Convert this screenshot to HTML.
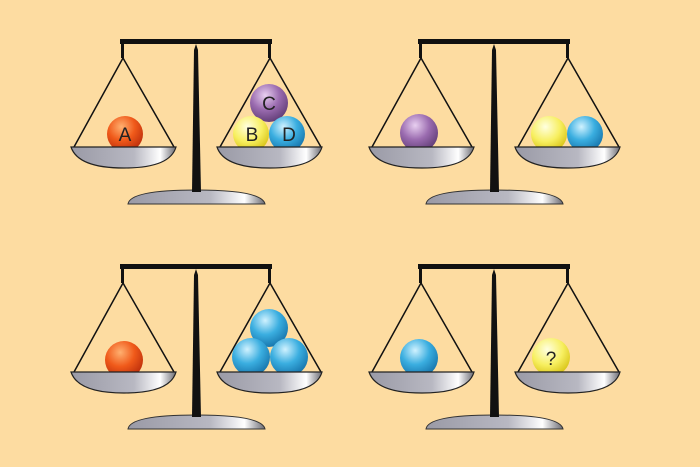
<!DOCTYPE html>
<html><head><meta charset="utf-8"><style>
html,body{margin:0;padding:0;background:#fddca1;}
svg{display:block}
text{font-family:"Liberation Sans",sans-serif;}
</style></head><body>
<svg width="700" height="467" viewBox="0 0 700 467">
<defs>
<radialGradient id="gRed" cx="0.4" cy="0.3" r="0.75"><stop offset="0" stop-color="#ffb070"/><stop offset="0.5" stop-color="#f05a1a"/><stop offset="1" stop-color="#b82a0a"/></radialGradient>
<radialGradient id="gPur" cx="0.4" cy="0.3" r="0.75"><stop offset="0" stop-color="#e8cff0"/><stop offset="0.5" stop-color="#9b6cb0"/><stop offset="1" stop-color="#5d3a72"/></radialGradient>
<radialGradient id="gYel" cx="0.4" cy="0.3" r="0.75"><stop offset="0" stop-color="#ffffe0"/><stop offset="0.55" stop-color="#f7ef60"/><stop offset="1" stop-color="#d6c010"/></radialGradient>
<radialGradient id="gBlu" cx="0.4" cy="0.3" r="0.75"><stop offset="0" stop-color="#d0f2ff"/><stop offset="0.5" stop-color="#3aaee0"/><stop offset="1" stop-color="#1470a8"/></radialGradient>
<linearGradient id="gPan" x1="0" y1="0" x2="1" y2="0"><stop offset="0" stop-color="#9a9aa6"/><stop offset="0.6" stop-color="#b8b8c2"/><stop offset="0.85" stop-color="#ffffff"/><stop offset="1" stop-color="#6a6a72"/></linearGradient>
<g id="scale">
  <path d="M128,204 Q130,190 196,190 Q262,190 265,204 Z" fill="url(#gPan)" stroke="#333" stroke-width="1"/>
  <rect x="120" y="39" width="152" height="5" fill="#111"/>
  <rect x="121" y="44" width="3" height="14" fill="#111"/>
  <rect x="268" y="44" width="3" height="14" fill="#111"/>
  <polygon points="192,192 194,50 196,44 198,50 201,192" fill="#111"/>
  <line x1="123" y1="58" x2="74" y2="147" stroke="#111" stroke-width="1.5"/>
  <line x1="123" y1="58" x2="174" y2="147" stroke="#111" stroke-width="1.5"/>
  <line x1="270" y1="58" x2="220" y2="147" stroke="#111" stroke-width="1.5"/>
  <line x1="270" y1="58" x2="321" y2="147" stroke="#111" stroke-width="1.5"/>
</g>
<g id="pans">
  <path d="M71,147 L176,147 Q170,168 124,168 Q78,168 71,147 Z" fill="url(#gPan)" stroke="#222" stroke-width="1.2"/>
  <path d="M217,147 L322,147 Q316,168 270,168 Q224,168 217,147 Z" fill="url(#gPan)" stroke="#222" stroke-width="1.2"/>
</g>
</defs>
<g>
  <use href="#scale"/>
  <circle cx="125" cy="134" r="18" fill="url(#gRed)"/>
  <circle cx="269" cy="103" r="19" fill="url(#gPur)"/>
  <circle cx="251" cy="134" r="18" fill="url(#gYel)"/>
  <circle cx="287" cy="134" r="18" fill="url(#gBlu)"/>
  <text x="125" y="141" font-size="19" text-anchor="middle" fill="#222">A</text>
  <text x="269" y="110" font-size="19" text-anchor="middle" fill="#222">C</text>
  <text x="252" y="141" font-size="19" text-anchor="middle" fill="#222">B</text>
  <text x="289" y="141" font-size="19" text-anchor="middle" fill="#222">D</text>
  <use href="#pans"/>
</g>
<g transform="translate(298,0)">
  <use href="#scale"/>
  <circle cx="121" cy="133" r="19" fill="url(#gPur)"/>
  <circle cx="251" cy="134" r="18" fill="url(#gYel)"/>
  <circle cx="287" cy="134" r="18" fill="url(#gBlu)"/>
  <use href="#pans"/>
</g>
<g transform="translate(0,225)">
  <use href="#scale"/>
  <circle cx="124" cy="135" r="19" fill="url(#gRed)"/>
  <circle cx="269" cy="103" r="19" fill="url(#gBlu)"/>
  <circle cx="251" cy="132" r="19" fill="url(#gBlu)"/>
  <circle cx="289" cy="132" r="19" fill="url(#gBlu)"/>
  <use href="#pans"/>
</g>
<g transform="translate(298,225)">
  <use href="#scale"/>
  <circle cx="121" cy="133" r="19" fill="url(#gBlu)"/>
  <circle cx="253" cy="132" r="19" fill="url(#gYel)"/>
  <text x="253" y="140" font-size="19" text-anchor="middle" fill="#222">?</text>
  <use href="#pans"/>
</g>
</svg>
</body></html>
